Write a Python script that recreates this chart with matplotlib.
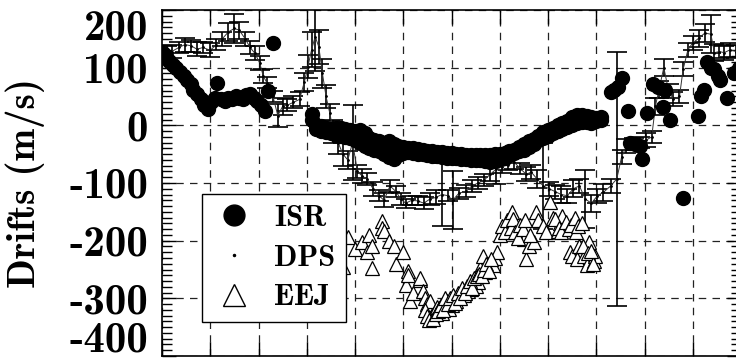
import numpy as np
import matplotlib
matplotlib.use('Agg')
import matplotlib.pyplot as plt
from matplotlib.lines import Line2D
from matplotlib.ticker import MultipleLocator
from matplotlib.transforms import ScaledTranslation

plt.rcParams['font.family'] = ['cmb10', 'DejaVu Serif']
plt.rcParams['axes.unicode_minus'] = False

# ISR drifts, scattered parts (hour, m/s)
isr_t = [0.05, 0.15, 0.3, 0.45, 0.6, 0.75, 0.9, 1.05, 1.2, 1.3, 1.45, 1.6, 1.75, 1.9,
         2.05, 2.2, 2.3, 2.45, 2.6, 2.75, 2.9, 3.05, 3.2, 3.35, 3.5, 3.65, 3.8, 3.95,
         4.1, 4.25, 4.4, 4.6,
         18.6, 18.75, 18.9, 19.05, 19.3, 19.4, 19.6, 19.8, 19.9, 20.1, 20.35, 20.55,
         20.75, 20.85, 21.05, 21.6, 22.2, 22.35, 22.45, 22.6, 22.75, 22.9, 23.05,
         23.15, 23.4, 23.7, 23.9]
isr_v = [125, 120, 112, 105, 100, 92, 85, 78, 72, 62, 55, 45, 35, 28,
         40, 48, 74, 45, 42, 48, 45, 50, 48, 45, 52, 55, 48, 42,
         35, 24, 59, 143,
         57, 62, 67, 82, 24, -30, -33, -36, -58, 22, 71, 66,
         31, 62, 10, -126, 16, 50, 62, 109, 100, 97, 85,
         79, 48, 91, 100]

# ISR dense band during the day: upper and lower edge of the cloud of points
band_t = [6.2, 6.4, 6.6, 6.8, 7.0, 7.2, 7.4, 7.6, 7.8, 8.0, 8.2, 8.4, 8.6, 8.8, 9.0,
          9.2, 9.4, 9.6, 9.8, 10.0, 10.2, 10.4, 10.6, 10.8, 11.0, 11.2, 11.4, 11.6,
          11.8, 12.0, 12.2, 12.4, 12.6, 12.8, 13.0, 13.2, 13.4, 13.6, 13.8, 14.0,
          14.2, 14.4, 14.6, 14.8, 15.0, 15.2, 15.4, 15.6, 15.8, 16.0, 16.2, 16.4,
          16.6, 16.8, 17.0, 17.2, 17.4, 17.6, 17.8, 18.0, 18.2]
band_hi = [20, 0, -2, -4, -6, -5, -4, -6, -8, -10, -8, -14, -22, -26, -28,
           -30, -28, -32, -36, -38, -40, -40, -41, -42, -44, -45, -46, -47,
           -48, -48, -50, -50, -51, -52, -52, -52, -52, -52, -50, -50,
           -48, -45, -42, -38, -32, -28, -24, -18, -12, -8, -4, 0,
           4, 8, 14, 18, 18, 16, 14, 12, 10]
band_lo = [10, -6, -10, -12, -14, -16, -18, -20, -22, -25, -30, -36, -40, -42, -45,
           -50, -55, -58, -52, -48, -47, -48, -50, -50, -52, -53, -54, -55,
           -56, -56, -57, -58, -58, -60, -60, -60, -62, -64, -62, -58,
           -56, -52, -48, -45, -42, -38, -32, -26, -22, -18, -14, -10,
           -6, -3, 0, 4, 6, 5, 4, 8, 14]

# DPS drifts with error bars
dps_t = [0.2, 0.4, 0.7, 0.95, 1.2, 1.45, 1.7, 2.0, 2.25, 2.5, 2.75, 3.0, 3.2, 3.45,
         3.65, 3.85, 4.05, 4.2, 4.35, 4.6, 4.8, 5.0, 5.2, 5.45, 5.7, 5.9, 6.05, 6.2,
         6.35, 6.5, 6.65, 6.8, 6.95, 7.1, 7.3, 7.5, 7.7, 7.9, 8.1, 8.3, 8.5, 8.75,
         9.0, 9.2, 9.45, 9.7, 9.9, 10.1, 10.35, 10.6, 10.85, 11.1, 11.35, 11.6,
         11.85, 12.05, 12.3, 12.6, 12.85, 13.1, 13.35, 13.6, 13.85, 14.1, 14.35,
         14.6, 14.85, 15.1, 15.3, 15.55, 15.8, 16.05, 16.3, 16.55, 16.8, 17.05,
         17.3, 17.55, 17.8, 18.05, 18.3, 18.6, 18.85, 19.05, 19.25, 19.55, 19.8,
         20.05, 20.3, 20.45, 20.6, 20.8, 21.0, 21.2, 21.45, 21.6, 21.8, 22.0,
         22.25, 22.5, 22.75, 22.9, 23.1, 23.3, 23.55, 23.8]
dps_v = [125, 128, 135, 140, 138, 132, 135, 130, 140, 150, 162, 168, 165, 150,
         135, 125, 108, 85, 74, 50, 17, 33, 35, 40, 45, 75, 102, 131,
         154, 136, 90, 50, 22, -10, -30, -50, -60, -30, -80, -88, -93, -110,
         -122, -130, -105, -115, -128, -135, -130, -131, -135, -128, -125, -120,
         -122, -130, -118, -114, -105, -100, -95, -85, -76, -72, -68,
         -64, -75, -85, -81, -93, -105, -110, -115, -120, -122, -110,
         -105, -128, -135, -122, -116, -105, -93, -55, -36, -32, -30,
         -26, -20, 33, 62, 100, 60, 45, 50, 97, 131, 143,
         151, 160, 158, 126, 128, 126, 131, 128]
dps_err = [12, 12, 10, 12, 10, 12, 10, 12, 10, 12, 15, 25, 15, 12,
           12, 12, 12, 12, 10, 10, 20, 15, 10, 10, 12, 15, 20, 30,
           60, 30, 25, 20, 15, 20, 20, 20, 15, 65, 12, 12, 10, 12,
           10, 12, 10, 10, 10, 8, 8, 8, 10, 10, 12, 55,
           10, 50, 10, 10, 10, 10, 10, 12, 25, 10, 10,
           12, 10, 12, 12, 15, 75, 12, 12, 15, 12, 15,
           12, 50, 15, 12, 15, 12, 220, 12, 12, 10, 10,
           12, 10, 15, 15, 15, 12, 12, 12, 12, 12, 12,
           15, 15, 33, 15, 12, 12, 12, 12]

# EEJ derived drifts
eej_t = [7.5, 7.7, 8.0, 8.3, 8.5, 8.6, 8.7, 8.7, 9.1, 9.1, 9.2, 9.4, 9.6, 9.7,
         10.0, 10.1, 10.2, 10.2, 10.3, 10.4, 10.7, 10.7, 10.8, 10.9, 11.0, 11.1,
         11.15, 11.2, 11.3, 11.4, 11.5, 11.6, 11.7, 11.8, 11.9, 12.0, 12.1, 12.2,
         12.3, 12.4, 12.5, 12.6, 12.7, 12.8, 12.9, 13.0, 13.1, 13.2, 13.3, 13.4,
         13.5, 13.7, 13.8, 13.9, 14.0, 14.1, 14.2, 14.3, 14.5, 14.6, 14.7, 14.8,
         15.0, 15.1, 15.2, 15.4, 15.5, 15.6, 15.8, 15.9, 16.1, 16.2, 16.4, 16.5,
         16.6, 16.7, 16.9, 17.0, 17.2, 17.3, 17.5, 17.6, 17.7, 17.9, 17.95,
         10.9, 11.0, 11.05, 11.25, 11.35, 11.45, 11.55, 11.65, 11.75, 11.85,
         11.95, 12.05, 12.15, 12.25, 12.35, 12.45, 12.55, 12.65, 12.75, 12.85,
         12.95, 13.05, 13.15, 13.25, 13.35, 13.45, 13.55, 13.65, 14.45, 14.55,
         14.65, 14.75, 14.85, 14.95, 15.05, 15.25, 16.3, 16.45, 16.55, 16.75,
         16.85, 16.95, 17.1, 17.15, 17.25, 17.4, 17.45, 17.65, 17.85, 17.8]
eej_v = [-245, -193, -215, -202, -219, -191, -248, -210, -166, -178, -183, -200,
         -209, -240, -219, -277, -253, -260, -305, -290, -269, -265, -288, -300,
         -310, -305, -334, -329, -322, -315, -317, -325, -310, -305, -318, -312,
         -300, -305, -298, -290, -295, -285, -288, -283, -275, -278, -271, -248,
         -226, -255, -240, -243, -230, -219, -191, -174, -185, -165, -150, -170,
         -179, -185, -197, -231, -210, -202, -150, -165, -174, -185, -133, -160,
         -184, -170, -157, -175, -219, -226, -231, -210, -226, -243, -202, -235,
         -226,
         -320, -330, -338, -335, -328, -322, -312, -320, -300, -310,
         -300, -295, -308, -290, -300, -282, -290, -278, -270, -282,
         -265, -262, -258, -262, -250, -240, -252, -232, -178, -162,
         -185, -195, -172, -180, -165, -190, -162, -178, -185, -168,
         -180, -172, -160, -185, -175, -170, -210, -222, -240, -218]

fig = plt.figure(figsize=(7.36, 3.6), dpi=100)
ax = fig.add_axes([162 / 736, 4 / 360, 579 / 736, 346 / 360])

ax.errorbar(dps_t, dps_v, yerr=dps_err, fmt='.', color='black', ms=2,
            elinewidth=1.2, capsize=7, capthick=1.2, zorder=2)
ax.plot(dps_t, dps_v, '-', color='#333333', lw=0.7, zorder=2)

ax.plot(eej_t, eej_v, '^', ms=9.5, mfc='white', mec='black', mew=0.9,
        ls='none', zorder=3)

all_isr_t = np.concatenate([isr_t, band_t, band_t])
all_isr_v = np.concatenate([isr_v, band_hi, band_lo])
ax.plot(all_isr_t, all_isr_v, 'o', ms=10, color='black', ls='none', zorder=4)

ax.set_xlim(0, 24)
ax.set_ylim(-400, 200)
ax.xaxis.set_major_locator(MultipleLocator(2))
ax.yaxis.set_major_locator(MultipleLocator(100))
ax.yaxis.set_minor_locator(MultipleLocator(10))
ax.grid(True, which='major', color='#222222', lw=0.9, ls=(0, (6, 5)))
ax.tick_params(which='both', direction='in', left=True, right=True,
               top=True, bottom=True, labelbottom=False, labelsize=31, pad=10)
ax.tick_params(which='major', length=10, width=1)
ax.tick_params(which='minor', length=7, width=1)
for s in ax.spines.values():
    s.set_linewidth(1.2)

# end labels sit inside the axis range, as in the original
fig.canvas.draw()
for tk in ax.yaxis.get_major_ticks():
    v = tk.get_loc()
    if np.isclose(v, 200):
        tk.label1.set_va('top')
    elif np.isclose(v, -400):
        tk.label1.set_va('baseline')
        tk.label1.set_transform(tk.label1.get_transform() +
                                ScaledTranslation(0, 4 / 100, fig.dpi_scale_trans))

ax.set_ylabel('Drifts (m/s)', fontsize=28)
ax.yaxis.set_label_coords(-0.202, 0.5)

handles = [Line2D([], [], marker='o', ms=15, color='black', ls='none'),
           Line2D([], [], marker='.', ms=3, color='black', ls='none'),
           Line2D([], [], marker='^', ms=16, mfc='white', mec='black',
                  mew=1, ls='none')]
leg = ax.legend(handles, ['ISR', 'DPS', 'EEJ'], loc='lower left',
                bbox_to_anchor=(0.069, 0.098), borderaxespad=0,
                fontsize=22, fancybox=False, framealpha=1, edgecolor='black',
                handletextpad=0.6, labelspacing=0.4, handlelength=1.4,
                borderpad=0.35)
leg.get_frame().set_linewidth(1.0)
leg.set_zorder(10)

fig.savefig('out.png', dpi=100)
